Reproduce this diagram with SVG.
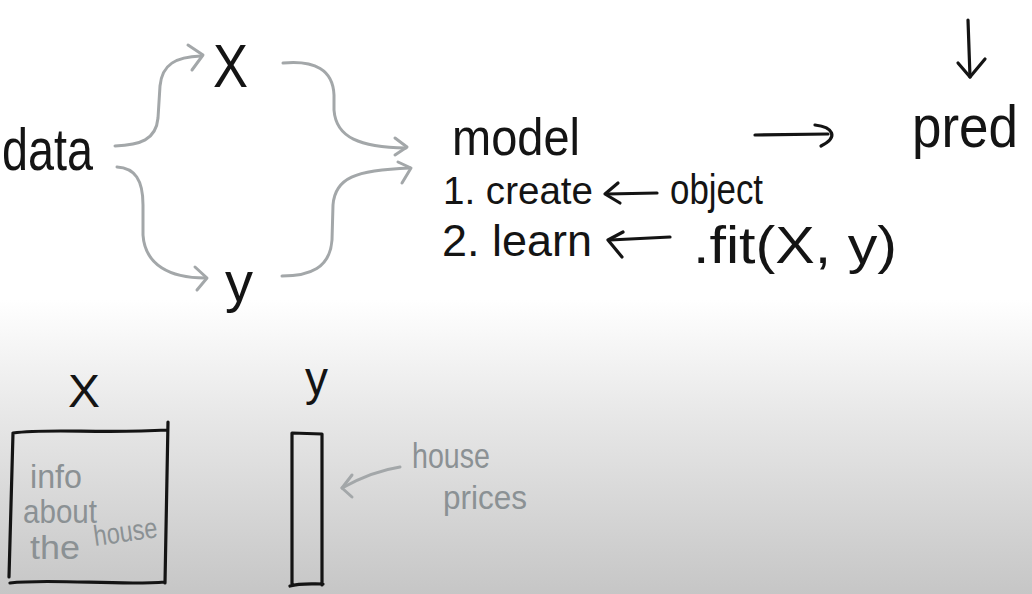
<svg xmlns="http://www.w3.org/2000/svg" width="1032" height="594" viewBox="0 0 1032 594">
<defs>
<linearGradient id="bg" gradientUnits="userSpaceOnUse" x1="0" y1="300" x2="0" y2="594">
<stop offset="0" stop-color="#ffffff"/>
<stop offset="0.15" stop-color="#f6f6f6"/>
<stop offset="0.4" stop-color="#e7e7e7"/>
<stop offset="1" stop-color="#c6c6c6"/>
</linearGradient>
<style>
.t{font-family:"Liberation Sans",Arial,sans-serif;fill:#141414}
.g{font-family:"Liberation Sans",Arial,sans-serif;fill:#8b9194}
.ink{fill:none;stroke:#141414;stroke-width:3.2;stroke-linecap:round;stroke-linejoin:round}
.gray{fill:none;stroke:#a3a7a9;stroke-width:3;stroke-linecap:round;stroke-linejoin:round}
</style>
</defs>
<rect x="0" y="0" width="1032" height="594" fill="url(#bg)"/>

<g id="data"><text class="t" x="2" y="170" font-size="60" textLength="91" lengthAdjust="spacingAndGlyphs">data</text></g>
<g id="X-top"><text class="t" x="213" y="87" font-size="62" textLength="35" lengthAdjust="spacingAndGlyphs">X</text></g>
<g id="y-top"><text class="t" x="225" y="301" font-size="56" textLength="28" lengthAdjust="spacingAndGlyphs">y</text></g>
<g id="model">
<text class="t" x="452" y="155" font-size="52" textLength="128" lengthAdjust="spacingAndGlyphs">model</text>
<text class="t" x="443" y="204" font-size="38" textLength="150" lengthAdjust="spacingAndGlyphs">1. create</text>
<text class="t" x="442" y="256" font-size="45" textLength="150" lengthAdjust="spacingAndGlyphs">2. learn</text>
</g>
<g id="object"><text class="t" x="670" y="204" font-size="42" textLength="93" lengthAdjust="spacingAndGlyphs">object</text></g>
<g id="fit"><text class="t" x="693" y="263" font-size="52" textLength="204" lengthAdjust="spacingAndGlyphs">.fit(X, y)</text></g>
<g id="pred"><text class="t" x="912" y="147" font-size="60" textLength="106" lengthAdjust="spacingAndGlyphs">pred</text></g>

<g id="X-matrix">
<text class="t" x="68" y="407" font-size="47" textLength="32" lengthAdjust="spacingAndGlyphs">X</text>
<path class="ink" d="M13,433 C50,428 100,434 167,430 M168,422 L165,583 M10,583 C50,578 120,586 165,582 M13,433 L9,577"/>
<text class="g" x="30" y="488" font-size="34" textLength="52" lengthAdjust="spacingAndGlyphs">info</text>
<text class="g" x="23" y="523" font-size="34" textLength="74" lengthAdjust="spacingAndGlyphs">about</text>
<text class="g" x="30" y="559" font-size="34" textLength="50" lengthAdjust="spacingAndGlyphs">the</text>
<text class="g" x="95" y="546" font-size="29" textLength="64" lengthAdjust="spacingAndGlyphs" transform="rotate(-8 95 546)">house</text>
</g>
<g id="y-vector">
<text class="t" x="305" y="395" font-size="48" textLength="23" lengthAdjust="spacingAndGlyphs">y</text>
<path class="ink" d="M292,433 L322,434 L322,585 M292,433 L292,585 M290,586 C300,583 310,584 323,584"/>
</g>
<g id="house-prices">
<text class="g" x="412" y="468" font-size="35" textLength="78" lengthAdjust="spacingAndGlyphs">house</text>
<text class="g" x="443" y="509" font-size="34" textLength="84" lengthAdjust="spacingAndGlyphs">prices</text>
</g>

<g id="connectors">
<path class="gray" d="M115,146 C140,145 156,140 158,118 L160,86 C162,64 176,57 201,56"/>
<path class="gray" d="M188,45 L203,55 L192,70"/>
<path class="gray" d="M117,167 C135,168 143,180 143,205 L143,235 C145,265 170,278 205,278"/>
<path class="gray" d="M195,267 L207,278 L197,290"/>
<path class="gray" d="M283,63 C315,60 333,70 334,95 L334,110 C336,138 360,147 406,148"/>
<path class="gray" d="M395,138 L407,147 L395,155"/>
<path class="gray" d="M282,276 C310,276 330,268 332,240 L333,205 C335,178 355,170 410,168"/>
<path class="gray" d="M398,162 L411,168 L402,183"/>
<path class="gray" d="M400,467 C380,470 360,478 342,488"/>
<path class="gray" d="M352,475 L342,488 L352,497"/>
<path class="ink" d="M755,135 L828,134"/>
<path class="ink" d="M815,125 C833,127 839,137 821,146"/>
<path class="ink" d="M968,20 L970,77"/>
<path class="ink" d="M958,63 L970,77 L985,59"/>
<path class="ink" d="M657,193 L607,194"/>
<path class="ink" d="M618,183 L605,194 L620,203"/>
<path class="ink" d="M670,237 L610,240"/>
<path class="ink" d="M623,232 L608,240 L622,257"/>
</g>
</svg>
